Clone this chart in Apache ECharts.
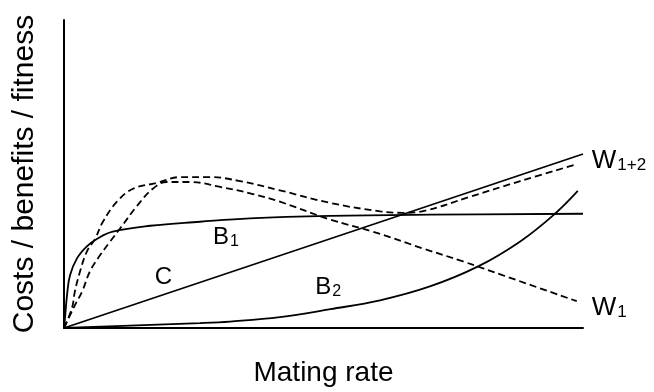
<!DOCTYPE html>
<html>
<head>
<meta charset="utf-8">
<script src="https://cdn.jsdelivr.net/npm/echarts@6/dist/echarts.min.js"></script>
<style>
  html, body { margin: 0; padding: 0; background: #fff; }
  #chart { width: 654px; height: 392px; }
</style>
</head>
<body>
<div id="chart"></div>
<script>
// ---- data (arbitrary units, x: mating rate 0..100, y: 0..100) ----
const dataC = [[0, 0], [100, 56.5]];
const dataB1 = [[0, 0], [0.19, 3.2], [0.58, 10.6], [1.16, 17.1], [2.5, 22.6], [4.4, 26.5], [6.4, 29.0],
  [9.4, 31.3], [16.6, 33.2], [26.2, 34.5], [35.8, 35.6], [51.3, 36.4], [70.5, 36.8], [100, 37.1]];
const dataB2 = [[0, 0], [12.7, 0.8], [26.2, 1.6], [32.0, 2.1], [41.6, 3.5], [51.3, 6.1], [60.9, 9.0],
  [70.5, 13.5], [79.8, 20.0], [87.9, 28.1], [94.6, 37.1], [99.0, 44.5]];
const dataW12 = [[0, 0], [1.54, 6.5], [2.1, 11.9], [3.1, 18.4], [4.4, 24.8], [6.0, 29.0], [7.5, 34.5],
  [10.2, 41.0], [13.3, 45.2], [17.9, 47.1], [22.4, 49.0], [28.1, 49.0], [33.9, 47.7],
  [41.6, 44.7], [51.3, 40.6], [60.9, 37.9], [65.3, 37.4], [69.6, 38.1], [78.2, 42.6], [87.9, 47.7], [98.8, 53.2]];
const dataW1 = [[0, 0], [2.1, 7.4], [3.5, 11.9], [5.0, 18.4], [6.9, 23.5], [8.9, 28.1], [10.8, 32.3],
  [14.1, 39.7], [17.1, 45.2], [19.8, 47.4], [24.3, 47.4], [30.1, 45.8], [36.4, 43.5], [41.6, 41.0],
  [51.3, 35.2], [59.5, 31.3], [69.2, 25.8], [76.9, 21.6], [84.6, 17.1], [98.8, 8.7]];

const xAxisName = 'Mating rate';
const yAxisName = 'Costs / benefits / fitness';
const curveNames = ['C', 'B1', 'B2', 'W1', 'W1+2'];
const labelMain = ['C', 'B', 'B', 'W', 'W'];
const labelSub = ['', '1', '2', '1', '1+2'];
// label anchor points (data coords: left edge, vertical middle)
const labelAnchors = [[17.5, 16.5], [28.7, 29.4], [48.4, 13.2], [101.7, 6.5], [101.7, 54.2]];
const labelSizes = [24, 24, 24, 26, 26];

const FONT = "'Liberation Sans', Arial, Helvetica, sans-serif";
const chart = echarts.init(document.getElementById('chart'), null, { renderer: 'canvas' });

function lineSeries(name, data, dashed) {
  return {
    name: name, type: 'line', data: data, showSymbol: false, symbol: 'none',
    smooth: 0.4, clip: false, silent: true,
    lineStyle: { color: '#000', width: 1.8, type: dashed ? [7, 4] : 'solid' }
  };
}

const axisCommon = {
  type: 'value', min: 0, max: 100,
  axisLine: { show: true, lineStyle: { color: '#000', width: 2 } },
  axisTick: { show: false }, axisLabel: { show: false }, splitLine: { show: false },
  nameLocation: 'middle',
  nameTextStyle: { color: '#000', fontFamily: FONT }
};

chart.setOption({
  animation: false,
  backgroundColor: '#fff',
  grid: { left: 64, right: 71, top: 20, bottom: 62 },
  xAxis: Object.assign({}, axisCommon, {
    name: xAxisName, nameGap: 31,
    nameTextStyle: { color: '#000', fontFamily: FONT, fontSize: 28 }
  }),
  yAxis: Object.assign({}, axisCommon, {
    name: yAxisName, nameGap: 24,
    nameTextStyle: { color: '#000', fontFamily: FONT, fontSize: 30 }
  }),
  series: [
    lineSeries(curveNames[0], dataC, false),
    lineSeries(curveNames[1], dataB1, false),
    lineSeries(curveNames[2], dataB2, false),
    lineSeries(curveNames[3], dataW1, true),
    lineSeries(curveNames[4], dataW12, true)
  ]
});

const graphics = labelAnchors.map(function (p, i) {
  const px = chart.convertToPixel({ gridIndex: 0 }, p);
  const size = labelSizes[i];
  const subSize = Math.round(size * 0.66);
  const text = '{m|' + labelMain[i] + '}' + (labelSub[i] ? '{s|' + labelSub[i] + '}' : '');
  return {
    type: 'text', x: px[0], y: px[1], silent: true,
    style: {
      text: text, align: 'left', verticalAlign: 'middle', fill: '#000', fontFamily: FONT,
      rich: {
        m: { fontSize: size, lineHeight: size, fontFamily: FONT, fill: '#000' },
        s: { fontSize: subSize, lineHeight: Math.round(size * 0.55), verticalAlign: 'bottom', fontFamily: FONT, fill: '#000', padding: [0, 0, 0, 1] }
      }
    }
  };
});
chart.setOption({ graphic: graphics });
</script>
</body>
</html>
